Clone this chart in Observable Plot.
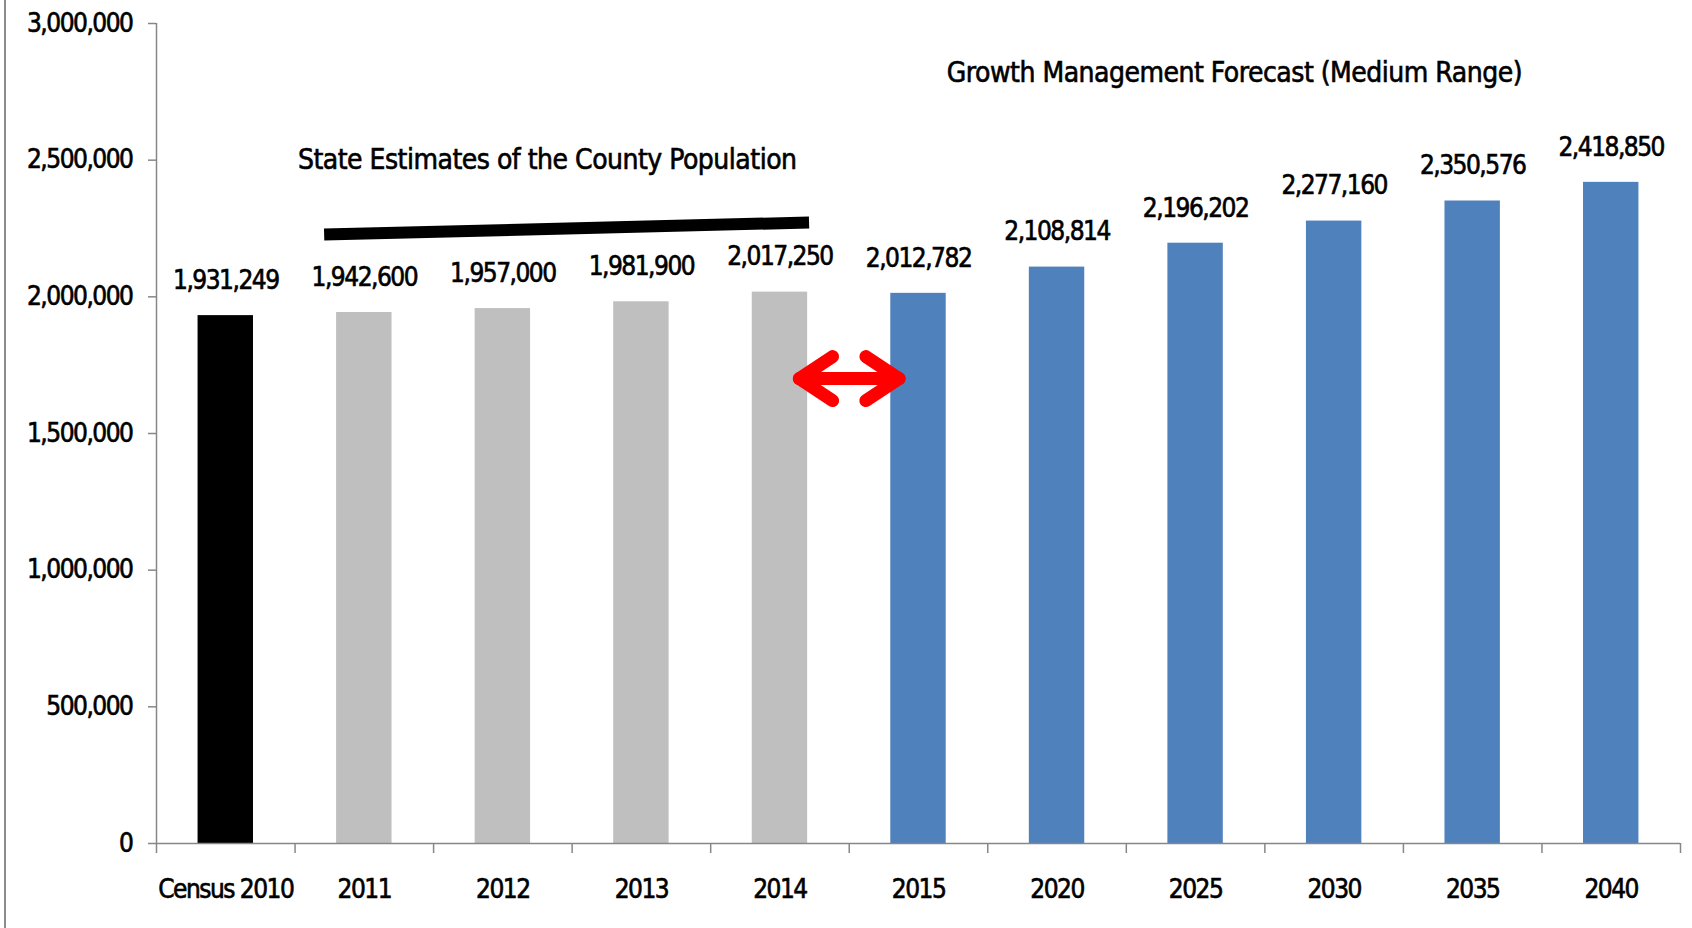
<!DOCTYPE html>
<html>
<head>
<meta charset="utf-8">
<script src="https://cdn.jsdelivr.net/npm/d3@7"></script>
<script src="https://cdn.jsdelivr.net/npm/@observablehq/plot@0.6"></script>
<style>
  html, body { margin: 0; padding: 0; background: #ffffff; }
  #chart { position: relative; width: 1692px; height: 928px; overflow: hidden; }
  #chart::before { content: ""; position: absolute; left: 4px; top: 0; bottom: 0; width: 2px; background: #8c8c8c; }
  svg { font-family: "Liberation Sans Narrow", "DejaVu Sans Condensed", "Roboto Condensed", sans-serif; }
  svg text { letter-spacing: -1.5px; stroke: #000; stroke-width: 0.6px; paint-order: normal; }
</style>
</head>
<body>
<div id="chart"></div>
<script>
// ---- data ----
const categories = ["Census 2010", "2011", "2012", "2013", "2014", "2015", "2020", "2025", "2030", "2035", "2040"];
const population = [1931249, 1942600, 1957000, 1981900, 2017250, 2012782, 2108814, 2196202, 2277160, 2350576, 2418850];
const series = ["Census", "State estimate", "State estimate", "State estimate", "State estimate",
                "Forecast", "Forecast", "Forecast", "Forecast", "Forecast", "Forecast"];
const seriesNames = ["Census", "State estimate", "Forecast"];
const yTicks = [0, 500000, 1000000, 1500000, 2000000, 2500000, 3000000];
const titleState = "State Estimates of the County Population";
const titleForecast = "Growth Management Forecast (Medium Range)";

const rows = categories.map((c, i) => ({i, category: c, value: population[i], series: series[i]}));
const fmt = d3.format(",");

// annotations (data coordinates: x = category index, y = population)
const bracket = [{x: 0.71, y: 2228000}, {x: 4.21, y: 2272000}];
const ay = 1701000, tipL = 4.14, tipR = 4.86, armX = 0.24, armY = 80500;
const arrowPaths = [
  {k: "shaft", x: tipL, y: ay}, {k: "shaft", x: tipR, y: ay},
  {k: "left", x: tipL + armX, y: ay + armY}, {k: "left", x: tipL, y: ay}, {k: "left", x: tipL + armX, y: ay - armY},
  {k: "right", x: tipR - armX, y: ay + armY}, {k: "right", x: tipR, y: ay}, {k: "right", x: tipR - armX, y: ay - armY}
];

const axisColor = "#878787";

const chart = Plot.plot({
  width: 1692,
  height: 928,
  marginLeft: 156,
  marginRight: 12,
  marginTop: 23,
  marginBottom: 85,
  style: {background: "#ffffff", color: "#000000"},
  x: {domain: [-0.5, 10.5], axis: null},
  y: {domain: [0, 3000000], axis: null},
  color: {domain: seriesNames, range: ["#000000", "#bfbfbf", "#4f81bd"]},
  marks: [
    Plot.rect(rows, {x1: d => d.i - 0.2, x2: d => d.i + 0.2, y1: 0, y2: "value", fill: "series"}),
    Plot.ruleY([0], {stroke: axisColor, strokeWidth: 1.5}),
    Plot.ruleX([-0.5], {stroke: axisColor, strokeWidth: 1.5}),
    Plot.axisY(yTicks, {tickFormat: fmt, tickSize: 8, tickPadding: 16, fontSize: 26, stroke: axisColor, fill: "#000", strokeWidth: 1.5}),
    Plot.axisX(d3.range(12).map(k => k - 0.5), {tickSize: 10, tickFormat: () => "", stroke: axisColor, strokeWidth: 1.5}),
    Plot.axisX(d3.range(categories.length), {tickFormat: i => categories[i], tickSize: 0, tickPadding: 36, fontSize: 26, fill: "#000"}),
    Plot.text(rows, {x: "i", y: "value", text: d => fmt(d.value), dy: -35, fontSize: 26, fill: "#000"}),
    Plot.text([titleState], {x: 2.32, y: 2499000, text: d => d, fontSize: 28, fill: "#000"}),
    Plot.text([titleForecast], {x: 7.28, y: 2817000, text: d => d, fontSize: 28, fill: "#000"}),
    Plot.line(bracket, {x: "x", y: "y", stroke: "#000", strokeWidth: 12, strokeLinecap: "butt"}),
    Plot.line(arrowPaths, {x: "x", y: "y", z: "k", stroke: "#ff0000", strokeWidth: 13, strokeLinecap: "round", strokeLinejoin: "round"})
  ]
});
d3.select(chart).selectAll("text")
  .filter(function() { return this.textContent === titleState || this.textContent === titleForecast; })
  .style("letter-spacing", "-0.5px");
document.getElementById("chart").appendChild(chart);
</script>
</body>
</html>
